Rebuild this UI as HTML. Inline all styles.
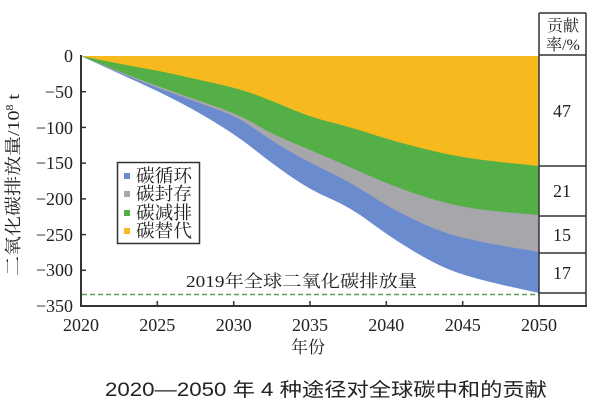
<!DOCTYPE html>
<html><head><meta charset="utf-8">
<style>
html,body{margin:0;padding:0;background:#fff;}
svg{display:block;}
.s{font-family:"Liberation Serif","Noto Serif CJK SC",serif;fill:#222;}
.h{font-family:"Liberation Sans","Noto Sans CJK SC",sans-serif;fill:#222;}
</style></head>
<body>
<svg width="600" height="409" viewBox="0 0 600 409" xmlns="http://www.w3.org/2000/svg">
<rect width="600" height="409" fill="#fff"/>
<!-- areas (stacked, each covers everything above its bottom edge) -->
<path fill="#6B8BCF" d="M81,56 Q120,74 140,83 Q160,92 180,102.5 Q200,113 220,125.5 Q240,138 255,150 Q270,162 290,176 Q310,190 330,198.5 Q350,207 370,222 Q390,237 415,252 Q440,267 460,273.5 Q480,280 509.5,286.5 L539,293 L539,56 Z"/>
<path fill="#A7A6AB" d="M81,56 Q120,73 140,81 Q160,89 180,96 Q200,103 220,110.5 Q240,118 255,129 Q270,140 290,151.5 Q310,163 330,172.5 Q350,182 370,195 Q390,208 415,220 Q440,232 460,237 Q480,242 509.5,247 L539,252 L539,56 Z"/>
<path fill="#55AF47" d="M81,56 Q120,72 140,79.5 Q160,87 180,94 Q200,101 220,108 Q240,115 255,124 Q270,133 290,141.5 Q310,150 330,158.5 Q350,167 370,176 Q390,185 415,193.5 Q440,202 460,206 Q480,210 509.5,212.5 L539,215 L539,56 Z"/>
<path fill="#F7BA1E" d="M81,56 Q120,64 140,67.5 Q160,71 180,75.5 Q200,80 220,84.5 Q240,89 255,94.5 Q270,100 290,108.5 Q310,117 330,122 Q350,127 370,133.5 Q390,140 415,146.5 Q440,153 460,156.5 Q480,160 509.5,163 L539,166 L539,56 Z"/>
<!-- dashed line -->
<line x1="82" y1="294.5" x2="539" y2="294.5" stroke="#5E9E52" stroke-width="1.5" stroke-dasharray="5,3"/>
<text class="s" x="186" y="287" font-size="17" textLength="231" lengthAdjust="spacingAndGlyphs">2019年全球二氧化碳排放量</text>
<!-- axes -->
<line x1="81" y1="55" x2="81" y2="307" stroke="#333" stroke-width="2"/>
<line x1="80" y1="306" x2="587" y2="306" stroke="#333" stroke-width="2"/>
<g stroke="#333" stroke-width="1.5">
<line x1="81" y1="91.7" x2="86" y2="91.7"/>
<line x1="81" y1="127.4" x2="86" y2="127.4"/>
<line x1="81" y1="163.1" x2="86" y2="163.1"/>
<line x1="81" y1="198.9" x2="86" y2="198.9"/>
<line x1="81" y1="234.6" x2="86" y2="234.6"/>
<line x1="81" y1="270.3" x2="86" y2="270.3"/>
<line x1="157.3" y1="301" x2="157.3" y2="306"/>
<line x1="233.7" y1="301" x2="233.7" y2="306"/>
<line x1="310" y1="301" x2="310" y2="306"/>
<line x1="386.3" y1="301" x2="386.3" y2="306"/>
<line x1="462.7" y1="301" x2="462.7" y2="306"/>
</g>
<!-- y tick labels -->
<g class="s" font-size="18" text-anchor="end">
<text x="73" y="62">0</text>
<text x="73" y="98">−50</text>
<text x="73" y="134">−100</text>
<text x="73" y="169">−150</text>
<text x="73" y="205">−200</text>
<text x="73" y="241">−250</text>
<text x="73" y="276">−300</text>
<text x="73" y="312">−350</text>
</g>
<!-- x tick labels -->
<g class="s" font-size="18" text-anchor="middle">
<text x="81" y="331">2020</text>
<text x="157.3" y="331">2025</text>
<text x="233.7" y="331">2030</text>
<text x="310" y="331">2035</text>
<text x="386.3" y="331">2040</text>
<text x="462.7" y="331">2045</text>
<text x="539" y="331">2050</text>
</g>
<text class="s" x="308" y="353" font-size="17" text-anchor="middle">年份</text>
<!-- y title -->
<text class="s" transform="translate(19,185) rotate(-90)" font-size="17" text-anchor="middle" textLength="182" lengthAdjust="spacingAndGlyphs">二氧化碳排放量/10<tspan font-size="10" dy="-6">8</tspan><tspan dy="6"> t</tspan></text>
<!-- legend -->
<rect x="117.5" y="162.5" width="82" height="81" fill="#fff" stroke="#333" stroke-width="1.5"/>
<rect x="124" y="173" width="6" height="6" fill="#6B8BCF"/>
<rect x="124" y="191" width="6" height="6" fill="#A7A6AB"/>
<rect x="124" y="210" width="6" height="6" fill="#55AF47"/>
<rect x="124" y="228" width="6" height="6" fill="#F7BA1E"/>
<g class="s" font-size="18">
<text x="136" y="182" textLength="56" lengthAdjust="spacingAndGlyphs">碳循环</text>
<text x="136" y="200" textLength="56" lengthAdjust="spacingAndGlyphs">碳封存</text>
<text x="136" y="219" textLength="56" lengthAdjust="spacingAndGlyphs">碳减排</text>
<text x="136" y="237" textLength="56" lengthAdjust="spacingAndGlyphs">碳替代</text>
</g>
<!-- table -->
<g stroke="#333" stroke-width="1.5" fill="none">
<line x1="539" y1="13" x2="539" y2="306"/>
<line x1="586" y1="13" x2="586" y2="306"/>
<line x1="539" y1="13" x2="586" y2="13"/>
<line x1="539" y1="55" x2="586" y2="55"/>
<line x1="539" y1="166" x2="586" y2="166"/>
<line x1="539" y1="216" x2="586" y2="216"/>
<line x1="539" y1="253" x2="586" y2="253"/>
<line x1="539" y1="293" x2="586" y2="293"/>
</g>
<g class="s" font-size="16" text-anchor="middle">
<text x="563" y="31">贡献</text>
<text x="563" y="50">率/%</text>
</g>
<g class="s" font-size="18" text-anchor="middle">
<text x="562" y="117">47</text>
<text x="562" y="197">21</text>
<text x="562" y="241">15</text>
<text x="562" y="279">17</text>
</g>
<!-- caption -->
<text class="h" x="105" y="396" font-size="19" textLength="442" lengthAdjust="spacingAndGlyphs">2020—2050 年 4 种途径对全球碳中和的贡献</text>
</svg>
</body></html>
